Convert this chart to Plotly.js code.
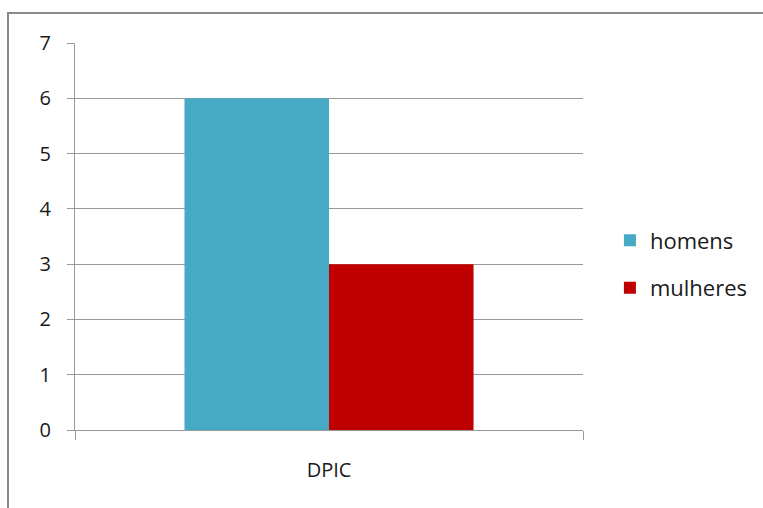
<!DOCTYPE html>
<html>
<head>
<meta charset="utf-8">
<script src="https://cdn.plot.ly/plotly-3.0.1.min.js"></script>
<style>
html,body{margin:0;padding:0;background:#fff;}
#chart{width:763px;height:508px;}
</style>
</head>
<body>
<div id="chart"></div>
<script>
var categories = ["DPIC"];
var seriesNames = ["homens", "mulheres"];
var homens = [6];
var mulheres = [3];
var yTicks = [0, 1, 2, 3, 4, 5, 6, 7];

var colors = ["#46AAC5", "#C00000"];
var fontFam = "'Open Sans', 'Noto Sans', sans-serif";

var traces = [
  {type: "bar", x: categories, y: homens, name: seriesNames[0],
   marker: {color: colors[0]}, legendgroup: "a", hoverinfo: "none"},
  {type: "bar", x: categories, y: mulheres, name: seriesNames[1],
   marker: {color: colors[1]}, legendgroup: "b", hoverinfo: "none"}
];

var layout = {
  width: 763, height: 508,
  margin: {l: 75, r: 180, t: 43, b: 78, pad: 0, autoexpand: false},
  paper_bgcolor: "#fff", plot_bgcolor: "#fff",
  barmode: "group", bargap: 0.431, bargroupgap: 0,
  font: {family: fontFam, color: "#1a1a1a", size: 20},
  xaxis: {
    type: "category",
    showgrid: false,
    showline: true, linecolor: "#9a9a9a", linewidth: 1,
    ticks: "outside", tickson: "boundaries", ticklen: 9, tickcolor: "#9a9a9a",
    tickfont: {size: 20, family: fontFam, color: "#1a1a1a"},
    ticklabelstandoff: 22,
    zeroline: false, automargin: false
  },
  yaxis: {
    range: [0, 7], tickvals: yTicks, ticktext: yTicks.map(String),
    showgrid: true, gridcolor: "#9a9a9a", gridwidth: 1,
    showline: true, linecolor: "#9a9a9a", linewidth: 1,
    ticks: "outside", ticklen: 7, tickcolor: "#9a9a9a",
    tickfont: {size: 20, family: fontFam, color: "#1a1a1a"},
    ticklabelstandoff: 12,
    zeroline: false, fixedrange: true, automargin: false
  },
  showlegend: true,
  legend: {
    x: 1.053, y: 0.544, xanchor: "left", yanchor: "top",
    traceorder: "grouped", tracegroupgap: 16,
    font: {size: 22, family: fontFam, color: "#1a1a1a"},
    itemwidth: 30, bgcolor: "rgba(0,0,0,0)"
  },
  shapes: [{
    type: "rect", xref: "paper", yref: "paper",
    x0: (8 - 75) / 508, x1: (800 - 75) / 508,
    y0: (430 - 560) / 387, y1: (430 - 13) / 387,
    line: {color: "#8a8a8a", width: 2}, fillcolor: "rgba(0,0,0,0)", layer: "below"
  }]
};

Plotly.newPlot("chart", traces, layout, {staticPlot: true, displayModeBar: false});
</script>
</body>
</html>
